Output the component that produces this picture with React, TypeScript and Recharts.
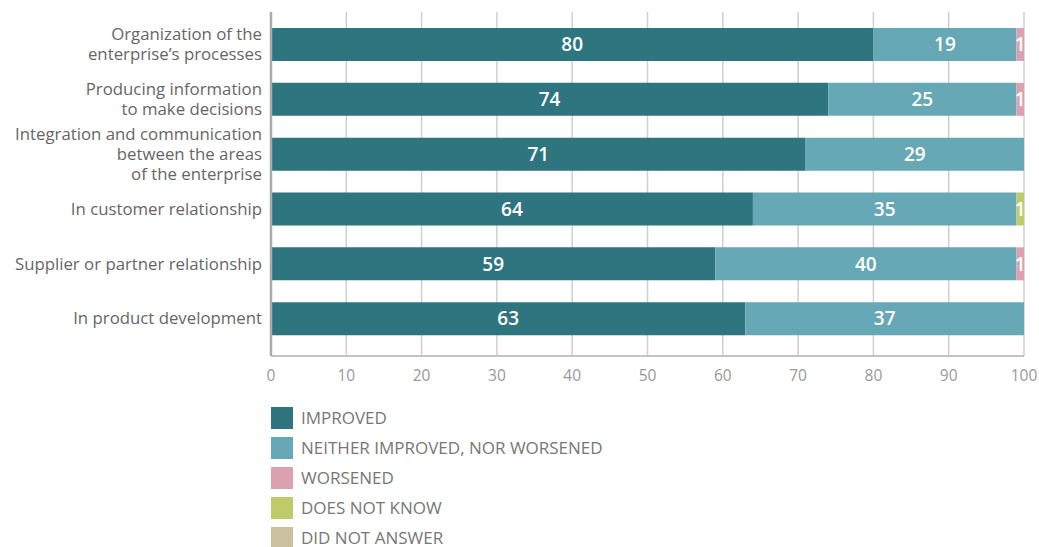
import { BarChart, Bar, XAxis, YAxis, CartesianGrid, Legend, LabelList } from 'recharts';

const categories = [
  "Organization of the\nenterprise’s processes",
  'Producing information\nto make decisions',
  'Integration and communication\nbetween the areas\nof the enterprise',
  'In customer relationship',
  'Supplier or partner relationship',
  'In product development',
];
const improved = [80, 74, 71, 64, 59, 63];
const neither = [19, 25, 29, 35, 40, 37];
const worsened = [1, 1, 0, 0, 1, 0];
const doesNotKnow = [0, 0, 0, 1, 0, 0];
const didNotAnswer = [0, 0, 0, 0, 0, 0];
const xTicks = [0, 10, 20, 30, 40, 50, 60, 70, 80, 90, 100];

const series = [
  { key: 'improved', name: 'IMPROVED', color: '#2e7580' },
  { key: 'neither', name: 'NEITHER IMPROVED, NOR WORSENED', color: '#67a8b6' },
  { key: 'worsened', name: 'WORSENED', color: '#dca1ae' },
  { key: 'doesNotKnow', name: 'DOES NOT KNOW', color: '#bfcb68' },
  { key: 'didNotAnswer', name: 'DID NOT ANSWER', color: '#cdc09f' },
];

const data = categories.map((name, i) => ({
  name,
  improved: improved[i],
  neither: neither[i],
  worsened: worsened[i],
  doesNotKnow: doesNotKnow[i],
  didNotAnswer: didNotAnswer[i],
}));

const FONT = '"Open Sans", sans-serif';

function CategoryTick({ x, y, payload }: any) {
  const lines = String(payload.value).split('\n');
  const lh = 20;
  const start = -((lines.length - 1) * lh) / 2;
  return (
    <text x={x - 1} y={y} textAnchor="end" fill="#666" fontSize={16.8} fontFamily={FONT}>
      {lines.map((l, i) => (
        <tspan key={i} x={x - 1} y={y + start + i * lh} dy="0.35em">
          {l}
        </tspan>
      ))}
    </text>
  );
}

function LegendList() {
  return (
    <div style={{ height: 161, paddingTop: 17, paddingLeft: 271, boxSizing: 'border-box', overflow: 'visible' }}>
      {series.map((s) => (
        <div key={s.key} style={{ display: 'flex', alignItems: 'center', height: 30 }}>
          <div style={{ width: 22, height: 22, background: s.color, marginRight: 8 }} />
          <span style={{ fontFamily: FONT, fontSize: 17, color: '#777', lineHeight: '20px' }}>{s.name}</span>
        </div>
      ))}
    </div>
  );
}

const hideZero = (v: any) => (v ? v : '');

export default function App() {
  return (
    <div style={{ position: 'absolute', left: 0, top: 0, width: 1039, height: 547, background: '#fff', overflow: 'hidden' }}>
      <BarChart
        width={1039}
        height={547}
        data={data}
        layout="vertical"
        margin={{ top: 12, right: 15, left: 0, bottom: 0 }}
      >
        <CartesianGrid horizontal={false} stroke="#cfcfcf" strokeWidth={1.5} />
        <XAxis
          type="number"
          domain={[0, 100]}
          ticks={xTicks}
          tickLine={false}
          axisLine={{ stroke: '#c4c4c4', strokeWidth: 2 }}
          tick={{ fill: '#999', fontSize: 15.5, fontFamily: FONT }}
          tickMargin={8}
          height={30}
        />
        <YAxis
          type="category"
          dataKey="name"
          width={271}
          tickLine={false}
          axisLine={{ stroke: '#aaa', strokeWidth: 2.5 }}
          tick={<CategoryTick />}
          padding={{ top: 5, bottom: 10 }}
        />
        <Legend
          layout="horizontal"
          align="left"
          verticalAlign="bottom"
          content={() => <LegendList />}
        />
        {series.map((s) => (
          <Bar key={s.key} dataKey={s.key} name={s.name} stackId="a" fill={s.color} barSize={33} isAnimationActive={false}>
            <LabelList
              dataKey={s.key}
              position="center"
              formatter={hideZero}
              fill="#fff"
              fontSize={19}
              fontWeight={600}
              fontFamily={FONT}
            />
          </Bar>
        ))}
      </BarChart>
    </div>
  );
}
